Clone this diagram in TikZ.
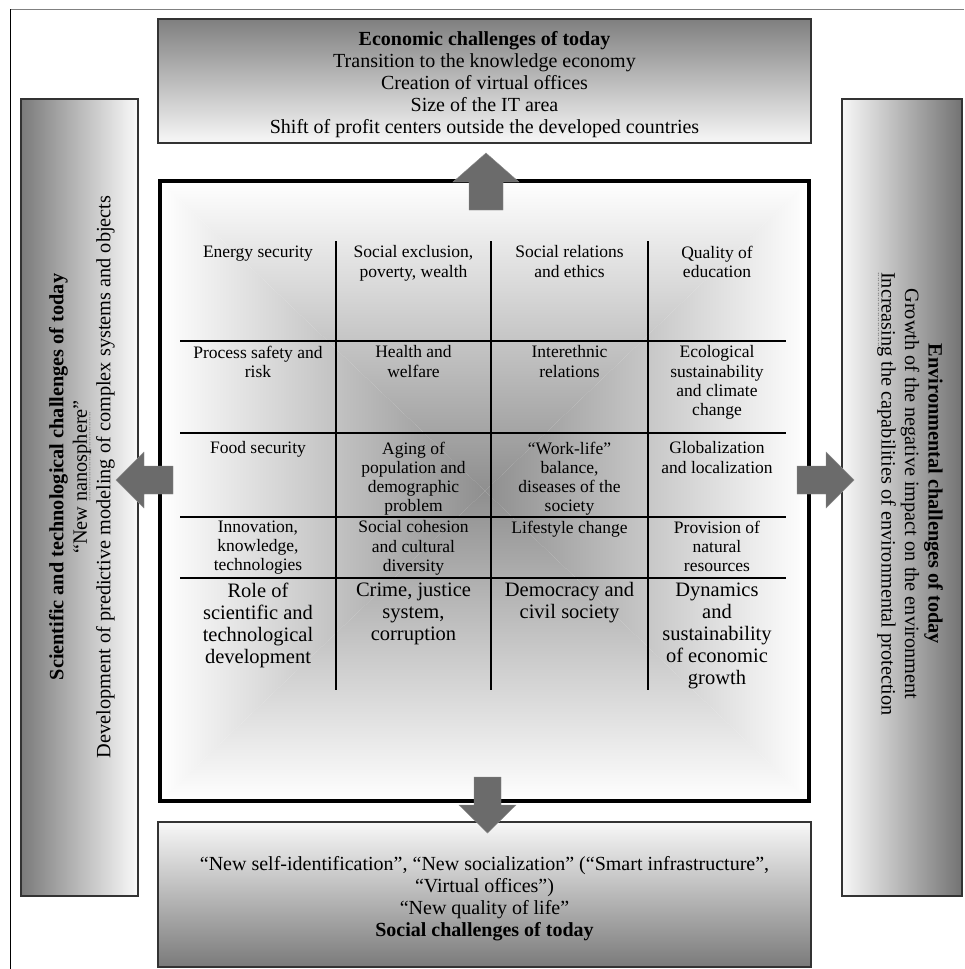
\documentclass[tikz,border=0pt]{standalone}
\usepackage{fontspec}
\setmainfont{Liberation Serif}
% dotted gray underline for a word
\newcommand\squig[1]{\setbox0\hbox{#1}\rlap{\raisebox{-3.5pt}[0pt][0pt]{\color{black!55}\fontsize{10}{10}\selectfont\hbox to\wd0{\leaders\hbox to 2.5pt{\hss.\hss}\hfill}}}\box0\relax}
\begin{document}
\begin{tikzpicture}[x=1pt,y=-1pt,
  sidebox/.style={draw=black!80,line width=1.6pt},
  bigtxt/.style={font=\fontsize{20}{22.2}\selectfont,align=center,inner sep=0pt},
  sidetxt/.style={font=\fontsize{20.3}{23.5}\selectfont,align=center,inner sep=0pt},
  celltxt/.style={font=\fontsize{17.5}{19.2}\selectfont,align=center,inner sep=0pt,anchor=north},
  rolecell/.style={font=\fontsize{20.5}{22}\selectfont,align=center,inner sep=0pt,anchor=north},
  gridline/.style={line width=1.1pt,black},
  blockarrow/.style={fill=black!58,draw=black!45,line width=0.4pt}]
\useasboundingbox (0,0) rectangle (964,969);

% outer frame
\draw[black!50,line width=1.5pt] (10,9.5) -- (964,9.5);
\draw[black,line width=1pt] (10.5,9) -- (10.5,969);

% side boxes with gradients, darker towards the outside
\shade[top color=black!50,bottom color=black!3] (158,19) rectangle (811,143);
\draw[sidebox] (158,19) rectangle (811,143);
\shade[left color=black!52,right color=black!2] (21,99) rectangle (138,896);
\draw[sidebox] (21,99) rectangle (138,896);
\shade[left color=black!3,right color=black!55] (842,99) rectangle (962,896);
\draw[sidebox] (842,99) rectangle (962,896);
\shade[top color=black!3,bottom color=black!52] (158,822) rectangle (811,967);
\draw[sidebox] (158,822) rectangle (811,967);

% central panel: light edges, darker centre
\coordinate (cc) at (485,491);
\shade[top color=white,bottom color=black!44] (160,181) -- (809,181) -- (cc) -- cycle;
\shade[top color=black!44,bottom color=white] (160,801) -- (809,801) -- (cc) -- cycle;
\shade[left color=white,right color=black!44] (160,181) -- (160,801) -- (cc) -- cycle;
\shade[left color=black!44,right color=white] (809,181) -- (809,801) -- (cc) -- cycle;
\draw[black,line width=3.5pt] (160,181) rectangle (809,801);

% grid of topics
\foreach \yy in {341,433,517,578} \draw[gridline] (180,\yy) -- (786,\yy);
\foreach \xx in {336,491,648} \draw[gridline] (\xx,241) -- (\xx,690);

\node[celltxt] (a1) at (258,245.5) {Energy security};
\node[celltxt] (b1) at (413.5,245.5) {Social exclusion,\\poverty, wealth};
\node[celltxt] (c1) at (569.5,245.5) {Social relations\\and ethics};
\node[celltxt] (d1) at (717,245.5) {Quality of\\education};

\node[celltxt] (a2) at (258,345.5) {Process safety and\\risk};
\node[celltxt] (b2) at (413.5,345.5) {Health and\\welfare};
\node[celltxt] (c2) at (569.5,345.5) {Interethnic\\relations};
\node[celltxt] (d2) at (717,345.5) {Ecological\\sustainability\\and climate\\change};

\node[celltxt] (a3) at (258,441.5) {Food security};
\node[celltxt] (b3) at (413.5,441.5) {Aging of\\population and\\demographic\\problem};
\node[celltxt] (c3) at (569.5,441.5) {“Work-life”\\balance,\\diseases of the\\society};
\node[celltxt] (d3) at (717,441.5) {Globalization\\and localization};

\node[celltxt] (a4) at (258,520.5) {Innovation,\\knowledge,\\technologies};
\node[celltxt] (b4) at (413.5,520.5) {Social cohesion\\and cultural\\diversity};
\node[celltxt] (c4) at (569.5,520.5) {Lifestyle change};
\node[celltxt] (d4) at (717,520.5) {Provision of\\natural\\resources};

\node[rolecell] (a5) at (258,582.5) {Role of\\scientific and\\technological\\development};
\node[rolecell] (b5) at (413.5,582.5) {Crime, justice\\system,\\corruption};
\node[rolecell] (c5) at (569.5,582.5) {Democracy and\\civil society};
\node[rolecell] (d5) at (717,582.5) {Dynamics\\and\\sustainability\\of economic\\growth};

% block arrows from the panel to the four challenge boxes
\draw[blockarrow] (469,210) -- (469,182) -- (453,182) -- (486,153) -- (519,182) -- (503,182) -- (503,210) -- cycle;
\draw[blockarrow] (474,777) -- (474,805) -- (459,805) -- (487.5,833) -- (516,805) -- (501,805) -- (501,777) -- cycle;
\draw[blockarrow] (173,466) -- (144,466) -- (144,452) -- (116,480) -- (144,508) -- (144,494) -- (173,494) -- cycle;
\draw[blockarrow] (797,466) -- (826,466) -- (826,452) -- (854,480) -- (826,508) -- (826,494) -- (797,494) -- cycle;

% texts of the challenge boxes
\node[bigtxt] (econ) at (484.5,84.5) {\textbf{Economic challenges of today}\\Transition to the knowledge economy\\Creation of virtual offices\\Size of the IT area\\Shift of profit centers outside the developed countries};
\node[bigtxt] (social) at (484.5,898.5) {“New self-identification”, “New socialization” (“Smart infrastructure”,\\“Virtual offices”)\\“New quality of life”\\\textbf{Social challenges of today}};
\node[sidetxt,rotate=90] (sci) at (82,477) {\textbf{Scientific and technological challenges of today}\\“New \squig{nanosphere}”\\Development of predictive modeling of complex systems and objects};
\node[sidetxt,rotate=-90] (env) at (910,494) {\textbf{Environmental challenges of today}\\Growth of the negative impact on the environment\\\squig{Increasing} the capabilities of environmental protection};
\end{tikzpicture}
\end{document}
